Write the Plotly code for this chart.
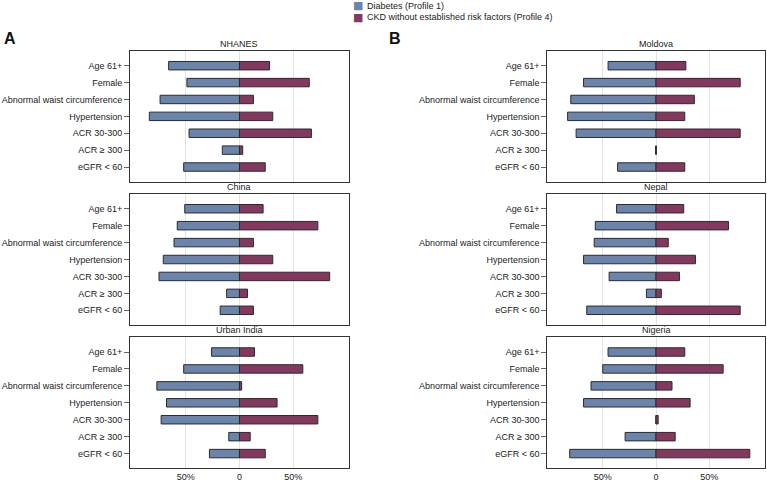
import plotly.graph_objects as go

# row labels, top to bottom
factors = ['Age 61+', 'Female', 'Abnormal waist circumference', 'Hypertension',
           'ACR 30-300', 'ACR \u2265 300', 'eGFR < 60']

panels = ['NHANES', 'Moldova', 'China', 'Nepal', 'Urban India', 'Nigeria']

# % with each characteristic, Diabetes (Profile 1)
diab_nhanes = [66, 49, 74, 84, 47, 16, 52]
diab_china = [51, 58, 61, 71, 75, 12, 18]
diab_india = [26, 52, 77, 68, 73, 10, 28]
diab_moldova = [45, 68, 80, 83, 75, 0.3, 36]
diab_nepal = [37, 57, 58, 68, 44, 9, 65]
diab_nigeria = [45, 50, 61, 68, 0, 29, 81]

# % with each characteristic, CKD without established risk factors (Profile 4)
ckd_nhanes = [28, 65, 13, 31, 67, 3, 24]
ckd_china = [22, 73, 13, 31, 84, 7.5, 13]
ckd_india = [14, 59, 2, 35, 73, 10, 24]
ckd_moldova = [28, 79, 36, 27, 79, 0.3, 27]
ckd_nepal = [26, 68, 11.5, 37, 22, 5, 79]
ckd_nigeria = [27, 63, 15, 32, 2, 18, 88]

diab = [diab_nhanes, diab_moldova, diab_china, diab_nepal, diab_india, diab_nigeria]
ckd = [ckd_nhanes, ckd_moldova, ckd_china, ckd_nepal, ckd_india, ckd_nigeria]

series_names = ['Diabetes (Profile 1)', 'CKD without established risk factors (Profile 4)']

blue = '#6b84ab'
purple = '#85385f'
edge = '#2b2b2b'
font = 'Liberation Sans, Arial, sans-serif'

# panel boxes in paper coordinates
x_doms = [[0.1695, 0.455], [0.7136, 0.997]]
y_doms = [[0.6238, 0.8944], [0.3271, 0.5983], [0.0304, 0.3017]]

fig = go.Figure()
layout = dict(
    barmode='relative',
    width=767, height=483,
    margin=dict(l=0, r=0, t=0, b=0),
    plot_bgcolor='white', paper_bgcolor='white',
    font=dict(family=font, size=9, color='#222'),
    showlegend=False,
    annotations=[],
)

for i, name in enumerate(panels):
    r, c = divmod(i, 2)
    n = '' if i == 0 else str(i + 1)
    xa, ya = 'x' + n, 'y' + n
    fig.add_trace(go.Bar(
        y=factors, x=[-v for v in diab[i]], orientation='h', width=0.5,
        marker=dict(color=blue, line=dict(color=edge, width=1)),
        name=series_names[0], xaxis=xa, yaxis=ya,
    ))
    fig.add_trace(go.Bar(
        y=factors, x=ckd[i], orientation='h', width=0.5,
        marker=dict(color=purple, line=dict(color=edge, width=1)),
        name=series_names[1], xaxis=xa, yaxis=ya,
    ))
    bottom = (r == 2)
    layout['xaxis' + n] = dict(
        domain=x_doms[c], anchor=ya, range=[-102, 102],
        tickvals=[-50, 0, 50], ticktext=['50%', '0', '50%'],
        showticklabels=bottom, ticks='',
        showgrid=True, gridcolor='#e3e3e3', gridwidth=1, zeroline=False,
        showline=True, linecolor='#333', linewidth=1, mirror=True,
        automargin=False, fixedrange=True,
    )
    layout['yaxis' + n] = dict(
        domain=y_doms[r], anchor=xa, type='category',
        categoryorder='array', categoryarray=factors,
        range=[6.87, -0.87], ticks='outside', ticklen=5, tickcolor='#666',
        showgrid=False, zeroline=False,
        showline=True, linecolor='#333', linewidth=1, mirror=True,
        automargin=False, fixedrange=True,
    )
    layout['annotations'].append(dict(
        text=name, xref='paper', yref='paper',
        x=sum(x_doms[c]) / 2, y=y_doms[r][1], xanchor='center', yanchor='bottom',
        showarrow=False, font=dict(size=9),
    ))

# key at the top (swatch + label per series)
for k, (label, col) in enumerate(zip(series_names, [blue, purple])):
    yk = 0.9876 - k * 0.0228
    layout['annotations'].append(dict(
        text='\u25a0', xref='paper', yref='paper', x=0.4668, y=yk,
        xanchor='center', yanchor='middle', showarrow=False,
        font=dict(size=11, color=col, family='DejaVu Sans'),
    ))
    layout['annotations'].append(dict(
        text=label, xref='paper', yref='paper', x=0.4765, y=yk,
        xanchor='left', yanchor='middle', showarrow=False, font=dict(size=9),
    ))

layout['annotations'].append(dict(text='<b>A</b>', xref='paper', yref='paper', x=0.002, y=0.92,
                                  xanchor='left', yanchor='middle', showarrow=False,
                                  font=dict(size=16, color='#111')))
layout['annotations'].append(dict(text='<b>B</b>', xref='paper', yref='paper', x=0.505, y=0.92,
                                  xanchor='left', yanchor='middle', showarrow=False,
                                  font=dict(size=16, color='#111')))

fig.update_layout(**layout)
fig.write_html('out.html', config={'displayModeBar': False},
               post_script="document.body.style.margin='0';document.body.style.overflow='hidden';")
